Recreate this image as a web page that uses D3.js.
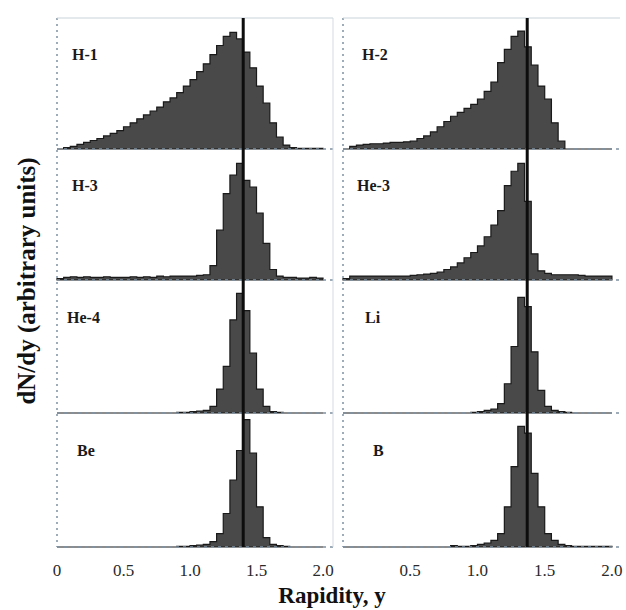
<!DOCTYPE html>
<html>
<head>
<meta charset="utf-8">
<script src="https://cdn.jsdelivr.net/npm/d3@7"></script>
<style>
  html, body { margin: 0; padding: 0; background: #fff; }
  svg { display: block; }
</style>
</head>
<body>
<svg id="chart" width="626" height="610"></svg>
<script>
// ---- data (bin width 0.05, bins start at y = 0) ----
const binWidth = 0.05;
const panelNames = ["H-1", "H-2", "H-3", "He-3", "He-4", "Li", "Be", "B"];
const H1 = [0, 0.01, 0.02, 0.035, 0.05, 0.065, 0.08, 0.10, 0.12, 0.14,
            0.17, 0.20, 0.23, 0.26, 0.29, 0.32, 0.36, 0.39, 0.43, 0.48,
            0.53, 0.59, 0.65, 0.72, 0.79, 0.86, 0.89, 0.84, 0.74, 0.62,
            0.48, 0.35, 0.20, 0.09, 0.03, 0.01, 0.005, 0.005, 0.005, 0.005];
const H2 = [0, 0.02, 0.03, 0.035, 0.04, 0.04, 0.045, 0.05, 0.05, 0.055,
            0.06, 0.08, 0.10, 0.13, 0.17, 0.21, 0.25, 0.28, 0.31, 0.34,
            0.38, 0.44, 0.51, 0.66, 0.76, 0.86, 0.90, 0.78, 0.64, 0.48,
            0.38, 0.20, 0.06, 0, 0, 0, 0, 0, 0, 0];
const H3 = [0.01, 0.02, 0.025, 0.02, 0.025, 0.02, 0.02, 0.025, 0.02, 0.02,
            0.02, 0.025, 0.02, 0.025, 0.02, 0.03, 0.025, 0.03, 0.03, 0.03,
            0.03, 0.035, 0.04, 0.11, 0.38, 0.66, 0.80, 0.89, 0.76, 0.71,
            0.51, 0.28, 0.08, 0.03, 0.02, 0.02, 0.015, 0.015, 0.02, 0.015];
const He3 = [0.01, 0.03, 0.03, 0.03, 0.03, 0.03, 0.03, 0.03, 0.03, 0.03,
             0.035, 0.04, 0.045, 0.05, 0.06, 0.08, 0.10, 0.13, 0.17, 0.21,
             0.26, 0.33, 0.42, 0.53, 0.72, 0.83, 0.89, 0.60, 0.20, 0.07,
             0.05, 0.04, 0.04, 0.04, 0.04, 0.035, 0.03, 0.03, 0.03, 0.03];
const He4 = [0, 0, 0, 0, 0, 0, 0, 0, 0, 0,
             0, 0, 0, 0, 0, 0, 0, 0, 0.005, 0.005,
             0.01, 0.015, 0.02, 0.05, 0.18, 0.35, 0.70, 0.90, 0.77, 0.45,
             0.18, 0.05, 0.01, 0.005, 0, 0, 0, 0, 0, 0];
const Li = [0, 0, 0, 0, 0, 0, 0, 0, 0, 0,
            0, 0, 0, 0, 0, 0, 0, 0, 0, 0.005,
            0.01, 0.02, 0.03, 0.07, 0.22, 0.50, 0.87, 0.80, 0.46, 0.17,
            0.05, 0.02, 0.01, 0.005, 0, 0, 0, 0, 0, 0];
const Be = [0, 0, 0, 0, 0, 0, 0, 0, 0, 0,
            0, 0, 0, 0, 0, 0, 0, 0, 0.005, 0.005,
            0.01, 0.015, 0.02, 0.04, 0.10, 0.25, 0.50, 0.72, 0.95, 0.70,
            0.30, 0.07, 0.02, 0.01, 0.005, 0, 0, 0, 0, 0];
const B = [0, 0, 0, 0, 0, 0, 0, 0, 0, 0,
           0, 0, 0, 0, 0, 0, 0.01, 0.005, 0.005, 0.01,
           0.02, 0.03, 0.05, 0.10, 0.30, 0.60, 0.90, 0.85, 0.55, 0.30,
           0.10, 0.05, 0.02, 0.01, 0.005, 0.005, 0.005, 0.005, 0.005, 0.005];
const panelValues = [H1, H2, H3, He3, He4, Li, Be, B];
const markerLines = [1.40, 1.37];       // vertical reference line per column
const leftTicks = [0, 0.5, 1.0, 1.5, 2.0];
const leftTickLabels = ["0", "0.5", "1.0", "1.5", "2.0"];
const rightTicks = [0.5, 1.0, 1.5, 2.0];
const rightTickLabels = ["0.5", "1.0", "1.5", "2.0"];
const xTitle = "Rapidity, y";
const yTitle = "dN/dy (arbitrary units)";

// ---- layout ----
const svg = d3.select("#chart");
const rowEdges = [18, 149, 280, 413, 547];
const labelOffsets = [15, 19, 15, 14, 10, 22, 20, 30];   // px from column axis
const cols = [
  { x: d3.scaleLinear().domain([0, 2.075]).range([57, 333]), max: 2.075,
    ticks: leftTicks, labels: leftTickLabels },
  { x: d3.scaleLinear().domain([0, 2.06]).range([343, 620]), max: 2.06,
    ticks: rightTicks, labels: rightTickLabels }
];
const serif = "'Liberation Serif', 'Times New Roman', serif";
const axisColor = "#7d91a1";

const area = d3.area().curve(d3.curveStepAfter);

panelValues.forEach((vals, i) => {
  const c = i % 2, r = Math.floor(i / 2);
  const col = cols[c];
  const y = d3.scaleLinear().domain([0, 1]).range([rowEdges[r + 1], rowEdges[r]]);
  const g = svg.append("g");

  // histogram
  const pts = vals.map((v, k) => [k * binWidth, v]);
  pts.push([vals.length * binWidth, vals[vals.length - 1]]);
  area.x(d => col.x(d[0])).y0(y(0)).y1(d => y(d[1]));
  g.append("path").attr("d", area(pts))
    .attr("fill", "#494949").attr("stroke", "#1a1a1a").attr("stroke-width", 1.2);

  // baseline
  g.append("line")
    .attr("x1", col.x(0)).attr("x2", col.x(col.max))
    .attr("y1", y(0)).attr("y2", y(0))
    .attr("stroke", axisColor).attr("stroke-width", 1.5)
    .attr("stroke-dasharray", "3,4");

  // label
  g.append("text")
    .attr("x", col.x(0) + labelOffsets[i])
    .attr("y", y(0.68))
    .attr("font-family", serif).attr("font-weight", "bold")
    .attr("font-size", 16).attr("fill", "#1a1a1a")
    .text(panelNames[i]);
});

cols.forEach((col, c) => {
  // left dotted axis
  svg.append("line")
    .attr("x1", col.x(0)).attr("x2", col.x(0))
    .attr("y1", rowEdges[0]).attr("y2", rowEdges[4])
    .attr("stroke", axisColor).attr("stroke-width", 1.5)
    .attr("stroke-dasharray", "2,4");
  // top frame line
  svg.append("line")
    .attr("x1", col.x(0)).attr("x2", col.x(col.max))
    .attr("y1", rowEdges[0]).attr("y2", rowEdges[0])
    .attr("stroke", "#c9d3da").attr("stroke-width", 1);
  // reference line
  svg.append("line")
    .attr("x1", col.x(markerLines[c])).attr("x2", col.x(markerLines[c]))
    .attr("y1", rowEdges[0]).attr("y2", rowEdges[4])
    .attr("stroke", "#0d0d0d").attr("stroke-width", 3);
  // tick labels
  svg.append("g").selectAll("text").data(col.ticks).join("text")
    .attr("x", d => col.x(d)).attr("y", 576)
    .attr("text-anchor", "middle")
    .attr("font-family", serif).attr("font-size", 17)
    .attr("fill", "#2a2a2a")
    .text((d, k) => col.labels[k]);
});

// divider between columns
svg.append("line")
  .attr("x1", cols[0].x(2.075)).attr("x2", cols[0].x(2.075))
  .attr("y1", rowEdges[0]).attr("y2", rowEdges[4])
  .attr("stroke", "#d3dbe1").attr("stroke-width", 1);

// axis titles
svg.append("text")
  .attr("x", 332).attr("y", 603)
  .attr("text-anchor", "middle")
  .attr("font-family", serif).attr("font-weight", "bold").attr("font-size", 23)
  .attr("fill", "#111")
  .text(xTitle);
svg.append("text")
  .attr("transform", "translate(35,281) rotate(-90)")
  .attr("text-anchor", "middle")
  .attr("font-family", serif).attr("font-weight", "bold").attr("font-size", 25)
  .attr("fill", "#111")
  .text(yTitle);
</script>
</body>
</html>
